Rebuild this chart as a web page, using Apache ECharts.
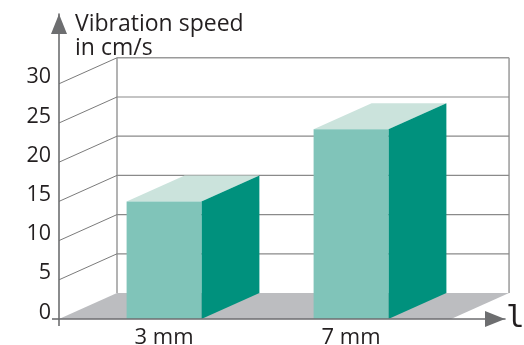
<!DOCTYPE html>
<html>
<head>
<meta charset="utf-8">
<style>html,body{margin:0;padding:0;background:#fff}#c{width:524px;height:345px}</style>
<script src="https://cdn.jsdelivr.net/npm/echarts@6/dist/echarts.min.js"></script>
</head>
<body>
<div id="c"></div>
<script>
const categories = ['3 mm', '7 mm'];
const speeds = [15, 24.2];
const yTicks = [0, 5, 10, 15, 20, 25, 30];
const gridLevels = [5, 10, 15, 20, 25, 30];
const yAxisTitle = 'Vibration speed\nin cm/s';
const xAxisTitle = 'l';

const DX = 58, DY = -26;
const X_MIN = -0.5615, X_MAX = 1.8235, FLOOR_END = 1.535, Y_MAX = 38.9, BAR_W = 0.4;
const FONT = '"Open Sans"';
const INK = '#231f20';
const AXIS = '#6d6e70';
const WALL = '#939393';

const chart = echarts.init(document.getElementById('c'), null, {renderer: 'canvas'});
const seg = (a, b, color, w) => ({type: 'line', shape: {x1: a[0], y1: a[1], x2: b[0], y2: b[1]}, style: {stroke: color, lineWidth: w}});
const poly = (pts, color) => ({type: 'polygon', shape: {points: pts}, style: {fill: color}});
const back = p => [p[0] + DX, p[1] + DY];

chart.setOption({
  animation: false,
  backgroundColor: '#fff',
  grid: {left: 59, top: 14, width: 446, height: 305, containLabel: false, outerBoundsMode: 'none'},
  xAxis: {
    type: 'value', min: X_MIN, max: X_MAX, z: 5,
    splitLine: {show: false},
    axisLine: {show: true, onZero: false, lineStyle: {color: AXIS, width: 1.6}, symbol: ['none', 'triangle'], symbolSize: [16, 20], symbolOffset: [0, -10]},
    axisTick: {show: true, customValues: [X_MIN], length: 7, lineStyle: {color: AXIS, width: 1.6}},
    axisLabel: {show: true, customValues: [0, 1], formatter: v => categories[Math.round(v)], color: INK, fontFamily: FONT, fontSize: 22, margin: 8, hideOverlap: false, showMinLabel: true, showMaxLabel: true},
    name: xAxisTitle, nameLocation: 'end', nameGap: 1,
    nameTextStyle: {color: INK, fontFamily: '"DejaVu Sans Mono"', fontSize: 31, align: 'left', verticalAlign: 'middle', padding: [8, 0, 0, 0]}
  },
  yAxis: {
    type: 'value', min: 0, max: Y_MAX, z: 5,
    splitLine: {show: false},
    axisLine: {show: true, onZero: false, lineStyle: {color: AXIS, width: 1.6}, symbol: ['none', 'triangle'], symbolSize: [16, 20], symbolOffset: [0, -10]},
    axisTick: {show: true, customValues: [0], length: 7, lineStyle: {color: AXIS, width: 1.6}},
    axisLabel: {show: true, customValues: yTicks, color: INK, fontFamily: FONT, fontSize: 21.5, margin: 8, lineHeight: 13, verticalAlign: 'bottom', hideOverlap: false, showMinLabel: true, showMaxLabel: true},
    name: yAxisTitle, nameLocation: 'end', nameGap: 2,
    nameTextStyle: {color: INK, fontFamily: FONT, fontSize: 23, lineHeight: 24, align: 'left', verticalAlign: 'top', padding: [0, 0, 0, 16]}
  },
  series: [
    {
      type: 'custom', coordinateSystem: 'cartesian2d', z: 1, silent: true,
      data: [0],
      renderItem: (p, api) => {
        const f0 = api.coord([X_MIN, 0]), f1 = api.coord([FLOOR_END, 0]);
        const top0 = api.coord([X_MIN, 30]), top1 = api.coord([FLOOR_END, 30]);
        const children = [
          poly([f0, back(f0), back(f1), f1], '#bcbdc0'),
          seg(back(f0), back(top0), WALL, 1.4),
          seg(back(f1), back(top1), WALL, 1.4)
        ];
        gridLevels.forEach(v => {
          const a = api.coord([X_MIN, v]), b = api.coord([FLOOR_END, v]);
          children.push(seg(a, back(a), '#7b7b7b', 1));
          children.push(seg(back(a), back(b), v === 30 ? '#9a9a9a' : '#8a8a8a', v === 30 ? 1.6 : 1.2));
        });
        return {type: 'group', children};
      }
    },
    {
      type: 'custom', coordinateSystem: 'cartesian2d', z: 2, silent: true,
      encode: {x: 0, y: 1},
      data: speeds.map((v, i) => [i, v]),
      renderItem: (p, api) => {
        const i = api.value(0), v = api.value(1);
        const bl = api.coord([i - BAR_W / 2, 0]), br = api.coord([i + BAR_W / 2, 0]);
        const tl = api.coord([i - BAR_W / 2, v]), tr = api.coord([i + BAR_W / 2, v]);
        return {type: 'group', children: [
          poly([tl, back(tl), back(tr), tr], '#cbe3dc'),
          poly([br, back(br), back(tr), tr], '#00917d'),
          poly([bl, br, tr, tl], '#80c4b9')
        ]};
      }
    }
  ]
});
</script>
</body>
</html>
